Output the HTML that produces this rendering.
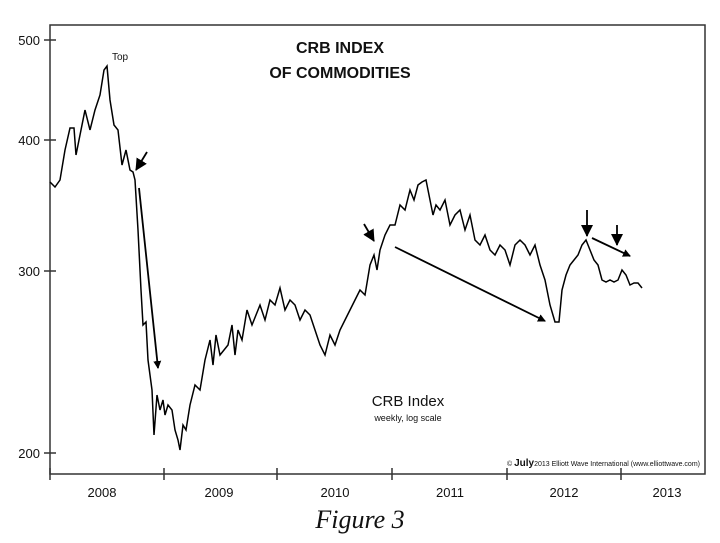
<!DOCTYPE html>
<html><head><style>
body{margin:0;background:#fff;}
svg text{font-family:"Liberation Sans",sans-serif;fill:#111;}
</style></head><body>
<svg width="720" height="538" xmlns="http://www.w3.org/2000/svg">
<defs><marker id="ah" markerWidth="8" markerHeight="8" refX="7" refY="4" orient="auto" markerUnits="userSpaceOnUse"><path d="M0,0 L8,4 L0,8 z" fill="#000"/></marker>
<marker id="ah2" markerWidth="12" markerHeight="12" refX="11" refY="6" orient="auto" markerUnits="userSpaceOnUse"><path d="M0,0 L12,6 L0,12 z" fill="#000"/></marker></defs>
<rect x="50" y="25" width="655" height="449" fill="none" stroke="#333" stroke-width="1.5"/>
<g stroke="#333" stroke-width="1.5">
<line x1="44" y1="40" x2="56" y2="40"/><line x1="44" y1="140" x2="56" y2="140"/><line x1="44" y1="271" x2="56" y2="271"/><line x1="44" y1="453" x2="56" y2="453"/>
<line x1="50" y1="468" x2="50" y2="480"/><line x1="164" y1="468" x2="164" y2="480"/><line x1="277" y1="468" x2="277" y2="480"/><line x1="392" y1="468" x2="392" y2="480"/><line x1="507" y1="468" x2="507" y2="480"/><line x1="621" y1="468" x2="621" y2="480"/>
</g>
<g font-size="13"><text x="40" y="45" text-anchor="end">500</text><text x="40" y="145" text-anchor="end">400</text><text x="40" y="276" text-anchor="end">300</text><text x="40" y="458" text-anchor="end">200</text></g>
<g font-size="13" text-anchor="middle"><text x="102" y="497">2008</text><text x="219" y="497">2009</text><text x="335" y="497">2010</text><text x="450" y="497">2011</text><text x="564" y="497">2012</text><text x="667" y="497">2013</text></g>
<text x="340" y="53" font-size="16" font-weight="bold" text-anchor="middle">CRB INDEX</text>
<text x="340" y="78" font-size="16" font-weight="bold" text-anchor="middle">OF COMMODITIES</text>
<text x="112" y="60" font-size="10">Top</text>
<text x="408" y="406" font-size="15" text-anchor="middle">CRB Index</text>
<text x="408" y="421" font-size="9" text-anchor="middle">weekly, log scale</text>
<text x="700" y="466" font-size="7" text-anchor="end">© <tspan font-size="10" font-weight="bold">July</tspan>2013 Elliott Wave International (www.elliottwave.com)</text>
<text x="360" y="528" font-size="26" font-style="italic" text-anchor="middle" style="font-family:'Liberation Serif',serif">Figure 3</text>
<polyline fill="none" stroke="#000" stroke-width="1.5" points="50,182 55,187 60,180 65,150 70,128 74,128 76,155 80,135 85,110 90,130 95,110 100,95 104,70 107,66 110,100 114,125 118,130 122,165 126,150 130,170 133,172 135,180 138,230 141,290 143,325 146,322 148,360 152,390 154,435 157,395 160,410 163,400 165,415 168,405 172,410 175,430 178,440 180,450 183,425 186,430 190,405 195,385 200,390 205,360 210,340 213,365 216,335 220,355 224,350 228,345 232,325 235,355 238,330 242,340 247,310 252,325 256,315 260,305 265,320 270,300 275,305 280,288 285,310 290,300 295,305 300,320 305,310 310,315 315,330 320,345 325,355 330,335 335,345 340,330 345,320 350,310 355,300 360,290 365,295 370,265 374,255 377,270 380,250 385,235 390,225 395,225 400,205 405,210 410,190 414,200 418,185 422,182 426,180 430,200 433,215 436,205 440,210 445,200 450,225 455,215 460,210 465,230 470,215 475,240 480,245 485,235 490,250 495,255 500,245 505,250 510,265 515,245 520,240 525,245 530,255 535,245 540,265 545,280 550,305 555,322 559,322 562,290 566,275 570,265 574,260 578,255 582,245 586,240 590,250 594,260 598,265 602,280 606,282 610,280 614,282 618,280 622,270 626,275 630,285 634,283 638,283 642,288"/>
<g stroke="#000" stroke-width="1.8">
<line x1="147" y1="152" x2="136" y2="170" marker-end="url(#ah2)"/>
<line x1="139" y1="188" x2="158" y2="368" marker-end="url(#ah)"/>
<line x1="364" y1="224" x2="374" y2="241" marker-end="url(#ah2)"/>
<line x1="395" y1="247" x2="545" y2="321" marker-end="url(#ah)"/>
<line x1="587" y1="210" x2="587" y2="236" marker-end="url(#ah2)"/>
<line x1="617" y1="225" x2="617" y2="245" marker-end="url(#ah2)"/>
<line x1="592" y1="238" x2="630" y2="256" marker-end="url(#ah)"/>
</g>
</svg>
</body></html>
